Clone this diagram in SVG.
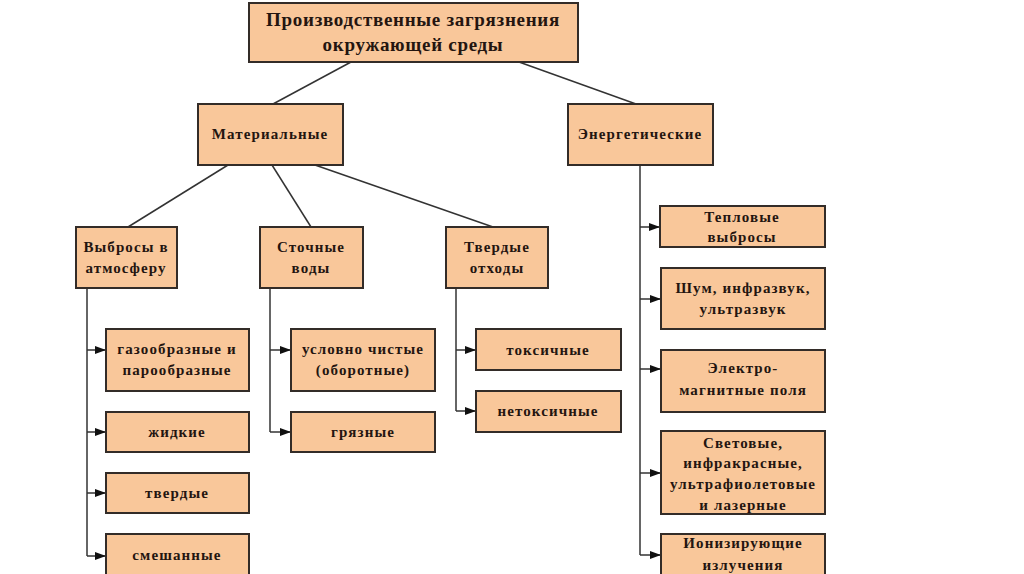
<svg xmlns="http://www.w3.org/2000/svg" width="1024" height="574" viewBox="0 0 1024 574">
<defs>
<marker id="arr" viewBox="0 0 11 8" refX="11" refY="4" markerWidth="11" markerHeight="8" markerUnits="userSpaceOnUse" orient="auto">
<path d="M0,0 L11,4 L0,8 Z" fill="#111"/>
</marker>
<style>
.box{fill:#F9C79A;stroke:#332c28;stroke-width:2}
.t{font-family:"Liberation Serif","Times New Roman",serif;font-weight:bold;font-size:15px;fill:#241510;text-anchor:middle;letter-spacing:1.1px}
.tt{font-size:19px;letter-spacing:0.7px}
.ln{stroke:#333;stroke-width:1.5;fill:none}
.ar{stroke:#333;stroke-width:1.5;fill:none;marker-end:url(#arr)}
</style>
</defs>
<rect width="1024" height="574" fill="#fff"/>
<g id="connectors">
<line class="ln" x1="351" y1="62" x2="273" y2="104"/>
<line class="ln" x1="519" y1="62" x2="636" y2="104"/>
<line class="ln" x1="228" y1="165" x2="128" y2="227"/>
<line class="ln" x1="272" y1="165" x2="311" y2="227"/>
<line class="ln" x1="315" y1="165" x2="493" y2="227"/>
<line class="ln" x1="87" y1="288" x2="87" y2="556"/>
<line class="ar" x1="87" y1="350" x2="106" y2="350"/>
<line class="ar" x1="87" y1="432" x2="106" y2="432"/>
<line class="ar" x1="87" y1="493" x2="106" y2="493"/>
<line class="ar" x1="87" y1="556" x2="106" y2="556"/>
<line class="ln" x1="270" y1="288" x2="270" y2="432"/>
<line class="ar" x1="270" y1="350" x2="291" y2="350"/>
<line class="ar" x1="270" y1="432" x2="291" y2="432"/>
<line class="ln" x1="456" y1="288" x2="456" y2="411"/>
<line class="ar" x1="456" y1="350" x2="476" y2="350"/>
<line class="ar" x1="456" y1="411" x2="476" y2="411"/>
<line class="ln" x1="640" y1="165" x2="640" y2="555"/>
<line class="ar" x1="640" y1="227" x2="660" y2="227"/>
<line class="ar" x1="640" y1="299" x2="661" y2="299"/>
<line class="ar" x1="640" y1="369" x2="661" y2="369"/>
<line class="ar" x1="640" y1="473" x2="661" y2="473"/>
<line class="ar" x1="640" y1="555" x2="661" y2="555"/>
</g>
<g id="root"><rect class="box" x="249" y="3" width="329" height="59"/>
<text class="t tt" x="413" y="26">Производственные загрязнения</text>
<text class="t tt" x="413" y="51">окружающей среды</text></g>
<g id="mat"><rect class="box" x="198" y="104" width="145" height="61"/><text class="t" x="270" y="139">Материальные</text></g>
<g id="energ"><rect class="box" x="568" y="104" width="145" height="61"/><text class="t" x="640" y="139">Энергетические</text></g>
<g id="vybrosy"><rect class="box" x="76" y="227" width="101" height="61"/><text class="t" x="126" y="252">Выбросы в</text><text class="t" x="126" y="273">атмосферу</text></g>
<g id="stochnye"><rect class="box" x="260" y="227" width="103" height="61"/><text class="t" x="311" y="252">Сточные</text><text class="t" x="311" y="273">воды</text></g>
<g id="tverdye-othody"><rect class="box" x="446" y="227" width="102" height="61"/><text class="t" x="497" y="252">Твердые</text><text class="t" x="497" y="273">отходы</text></g>
<g id="gazoobr"><rect class="box" x="106" y="329" width="143" height="62"/><text class="t" x="177" y="354">газообразные и</text><text class="t" x="177" y="375">парообразные</text></g>
<g id="zhidkie"><rect class="box" x="106" y="412" width="143" height="40"/><text class="t" x="177" y="437">жидкие</text></g>
<g id="tverdye"><rect class="box" x="106" y="473" width="143" height="40"/><text class="t" x="177" y="498">твердые</text></g>
<g id="smeshannye"><rect class="box" x="106" y="534" width="143" height="44"/><text class="t" x="177" y="560">смешанные</text></g>
<g id="uslovno"><rect class="box" x="291" y="329" width="144" height="62"/><text class="t" x="363" y="354">условно чистые</text><text class="t" x="363" y="375">(оборотные)</text></g>
<g id="gryaznye"><rect class="box" x="291" y="412" width="144" height="40"/><text class="t" x="363" y="437">грязные</text></g>
<g id="toksichnye"><rect class="box" x="476" y="329" width="145" height="41"/><text class="t" x="548" y="355">токсичные</text></g>
<g id="netoksichnye"><rect class="box" x="476" y="391" width="145" height="41"/><text class="t" x="548" y="416">нетоксичные</text></g>
<g id="teplovye"><rect class="box" x="660" y="206" width="165" height="41"/><text class="t" x="742" y="222">Тепловые</text><text class="t" x="742" y="242">выбросы</text></g>
<g id="shum"><rect class="box" x="661" y="268" width="164" height="61"/><text class="t" x="743" y="293">Шум, инфразвук,</text><text class="t" x="743" y="314">ультразвук</text></g>
<g id="elektro"><rect class="box" x="661" y="350" width="164" height="62"/><text class="t" x="743" y="373">Электро-</text><text class="t" x="743" y="395">магнитные поля</text></g>
<g id="svetovye"><rect class="box" x="661" y="431" width="164" height="83"/><text class="t" x="743" y="448">Световые,</text><text class="t" x="743" y="468">инфракрасные,</text><text class="t" x="743" y="489">ультрафиолетовые</text><text class="t" x="743" y="510">и лазерные</text></g>
<g id="ioniz"><rect class="box" x="661" y="534" width="164" height="44"/><text class="t" x="743" y="548">Ионизирующие</text><text class="t" x="743" y="570">излучения</text></g>
</svg>
